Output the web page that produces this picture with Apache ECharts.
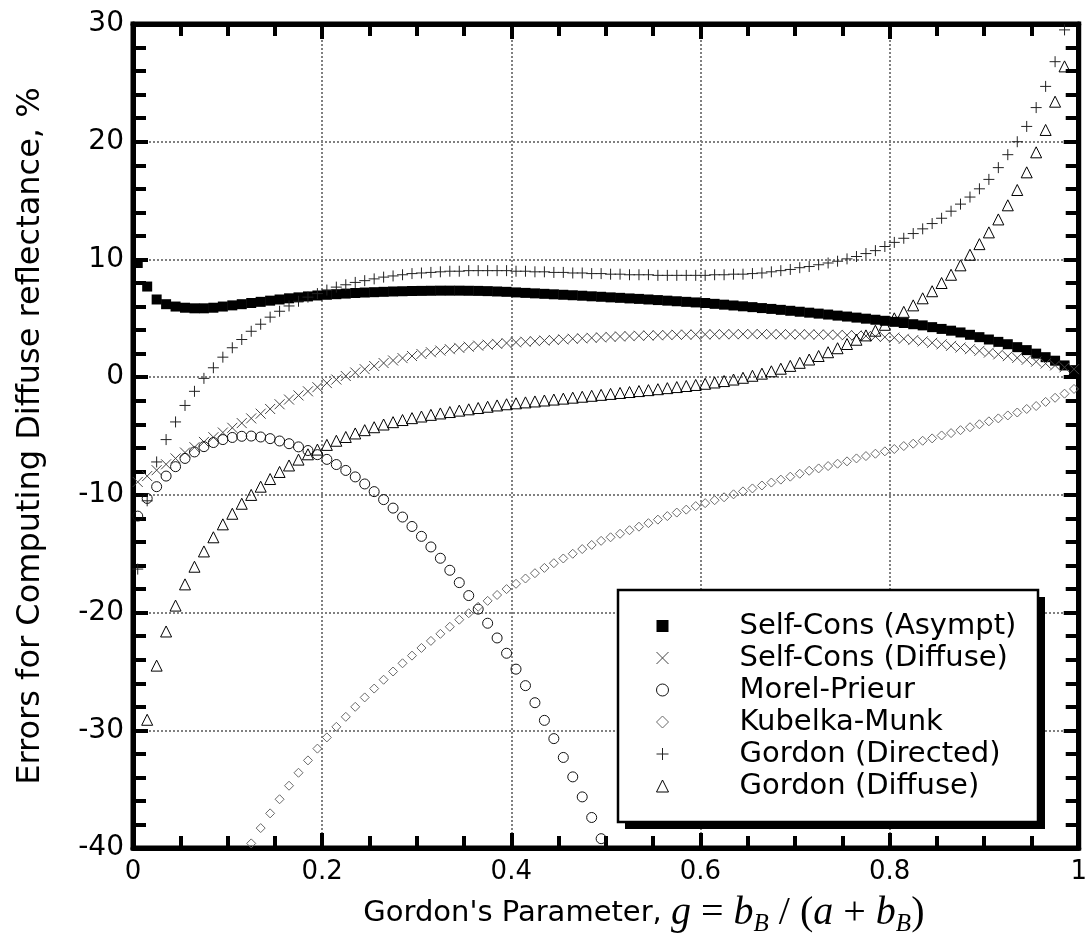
<!DOCTYPE html>
<html>
<head>
<meta charset="utf-8">
<script src="https://cdn.jsdelivr.net/npm/echarts@6/dist/echarts.min.js"></script>
<style>
html,body{margin:0;padding:0;background:#fff;}
#chart{width:1090px;height:942px;}
</style>
</head>
<body>
<div id="chart"></div>
<script>
// Gordon's parameter g (x positions of the computed points)
const G = [0.005,0.015,0.025,0.035,0.045,0.055,0.065,0.075,0.085,0.095,
0.105,0.115,0.125,0.135,0.145,0.155,0.165,0.175,0.185,0.195,
0.205,0.215,0.225,0.235,0.245,0.255,0.265,0.275,0.285,0.295,
0.305,0.315,0.325,0.335,0.345,0.355,0.365,0.375,0.385,0.395,
0.405,0.415,0.425,0.435,0.445,0.455,0.465,0.475,0.485,0.495,
0.505,0.515,0.525,0.535,0.545,0.555,0.565,0.575,0.585,0.595,
0.605,0.615,0.625,0.635,0.645,0.655,0.665,0.675,0.685,0.695,
0.705,0.715,0.725,0.735,0.745,0.755,0.765,0.775,0.785,0.795,
0.805,0.815,0.825,0.835,0.845,0.855,0.865,0.875,0.885,0.895,
0.905,0.915,0.925,0.935,0.945,0.955,0.965,0.975,0.985,0.995];

const selfConsAsympt = [9.7,7.7,6.6,6.2,6.0,5.9,5.85,5.85,5.9,6.0,
6.1,6.2,6.3,6.4,6.5,6.6,6.7,6.78,6.86,6.94,
7.0,7.05,7.1,7.15,7.19,7.22,7.25,7.28,7.3,7.32,
7.33,7.34,7.35,7.35,7.35,7.34,7.33,7.31,7.28,7.25,
7.2,7.16,7.12,7.08,7.04,7.0,6.96,6.92,6.87,6.83,
6.78,6.74,6.69,6.65,6.6,6.55,6.5,6.45,6.4,6.35,
6.3,6.23,6.16,6.09,6.02,5.95,5.87,5.8,5.72,5.64,
5.56,5.48,5.4,5.32,5.23,5.15,5.06,4.97,4.88,4.79,
4.7,4.6,4.5,4.4,4.25,4.1,3.95,3.8,3.6,3.4,
3.2,3.0,2.8,2.55,2.3,2.0,1.7,1.4,1.0,0.6];

const selfConsDiffuse = [-8.9,-8.4,-7.9,-7.4,-6.9,-6.4,-5.95,-5.5,-5.1,-4.7,
-4.3,-3.9,-3.5,-3.1,-2.7,-2.3,-1.9,-1.55,-1.2,-0.85,
-0.5,-0.2,0.1,0.4,0.68,0.95,1.2,1.42,1.62,1.8,
1.97,2.12,2.26,2.38,2.49,2.59,2.68,2.76,2.83,2.9,
2.96,3.01,3.06,3.11,3.16,3.21,3.26,3.3,3.34,3.38,
3.42,3.46,3.49,3.52,3.54,3.56,3.58,3.6,3.61,3.62,
3.63,3.64,3.65,3.65,3.66,3.66,3.66,3.65,3.65,3.64,
3.64,3.63,3.62,3.61,3.59,3.57,3.54,3.5,3.46,3.41,
3.36,3.26,3.15,3.04,2.92,2.79,2.66,2.52,2.38,2.24,
2.09,1.94,1.79,1.64,1.48,1.32,1.16,1.0,0.84,0.68];

const morelPrieur = [-11.8,-10.3,-9.3,-8.4,-7.6,-6.9,-6.35,-5.9,-5.55,-5.3,
-5.12,-5.02,-5.0,-5.08,-5.22,-5.42,-5.65,-5.92,-6.23,-6.58,
-6.98,-7.42,-7.92,-8.47,-9.07,-9.72,-10.4,-11.12,-11.88,-12.68,
-13.52,-14.42,-15.38,-16.4,-17.45,-18.55,-19.7,-20.9,-22.15,-23.45,
-24.8,-26.2,-27.65,-29.15,-30.7,-32.3,-33.95,-35.65,-37.4,-39.2,
null,null,null,null,null,null,null,null,null,null,
null,null,null,null,null,null,null,null,null,null,
null,null,null,null,null,null,null,null,null,null,
null,null,null,null,null,null,null,null,null,null,
null,null,null,null,null,null,null,null,null,null];

const kubelkaMunk = [null,null,null,null,null,null,null,null,null,null,
null,null,-39.6,-38.3,-37.05,-35.85,-34.7,-33.6,-32.55,-31.55,
-30.6,-29.7,-28.85,-28.0,-27.2,-26.45,-25.7,-25.0,-24.3,-23.65,
-23.0,-22.4,-21.8,-21.2,-20.6,-20.05,-19.5,-19.0,-18.5,-18.0,
-17.55,-17.1,-16.65,-16.2,-15.8,-15.4,-15.0,-14.6,-14.25,-13.9,
-13.6,-13.3,-13.0,-12.7,-12.4,-12.1,-11.8,-11.5,-11.25,-10.95,
-10.7,-10.45,-10.2,-9.95,-9.7,-9.45,-9.2,-8.95,-8.7,-8.45,
-8.2,-7.95,-7.75,-7.55,-7.35,-7.15,-6.9,-6.7,-6.5,-6.3,
-6.1,-5.85,-5.65,-5.4,-5.2,-4.95,-4.75,-4.5,-4.25,-4.0,
-3.75,-3.5,-3.25,-3.0,-2.7,-2.45,-2.1,-1.75,-1.4,-1.0];

const gordonDirected = [-16.3,-10.5,-7.2,-5.3,-3.8,-2.4,-1.2,-0.1,0.8,1.7,
2.5,3.2,3.9,4.5,5.1,5.6,6.05,6.45,6.8,7.1,
7.4,7.65,7.85,8.05,8.2,8.35,8.5,8.6,8.7,8.8,
8.85,8.9,8.95,9.0,9.0,9.05,9.05,9.05,9.05,9.05,
9.0,9.0,8.95,8.95,8.9,8.9,8.85,8.85,8.8,8.8,
8.75,8.75,8.7,8.7,8.7,8.65,8.65,8.65,8.65,8.65,
8.65,8.7,8.7,8.75,8.75,8.8,8.85,8.95,9.05,9.15,
9.3,9.4,9.55,9.7,9.85,10.05,10.25,10.5,10.75,11.1,
11.45,11.8,12.2,12.6,13.05,13.5,14.1,14.7,15.3,16.0,
16.8,17.8,18.9,20.0,21.3,22.9,24.7,26.8,29.5,32.5];

const gordonDiffuse = [null,-29.1,-24.5,-21.6,-19.4,-17.6,-16.1,-14.8,-13.6,-12.5,
-11.6,-10.75,-10.0,-9.3,-8.65,-8.05,-7.5,-7.0,-6.55,-6.15,
-5.75,-5.4,-5.08,-4.78,-4.5,-4.25,-4.02,-3.82,-3.64,-3.48,
-3.34,-3.2,-3.08,-2.96,-2.84,-2.73,-2.62,-2.51,-2.4,-2.3,
-2.22,-2.14,-2.06,-1.98,-1.9,-1.82,-1.74,-1.66,-1.58,-1.5,
-1.42,-1.34,-1.26,-1.18,-1.1,-1.02,-0.93,-0.84,-0.75,-0.66,
-0.56,-0.45,-0.33,-0.2,-0.05,0.12,0.3,0.5,0.72,0.96,
1.22,1.5,1.8,2.12,2.46,2.82,3.18,3.55,3.95,4.45,
5.0,5.55,6.1,6.7,7.3,8.0,8.7,9.5,10.4,11.3,
12.3,13.4,14.6,15.9,17.4,19.1,21.0,23.4,26.4,30.8];

const seriesNames = ['Self-Cons (Asympt)','Self-Cons (Diffuse)','Morel-Prieur','Kubelka-Munk','Gordon (Directed)','Gordon (Diffuse)'];
const seriesValues = [selfConsAsympt, selfConsDiffuse, morelPrieur, kubelkaMunk, gordonDirected, gordonDiffuse];

const CROSS = 'path://M0,0L10,10M10,0L0,10';
const PLUS = 'path://M5,0L5,10M0,5L10,5';
const styles = [
  {symbol:'rect', size:10, item:{color:'#000', opacity:1}},
  {symbol:CROSS, size:10, item:{color:'none', borderColor:'#444', borderWidth:1, opacity:1}},
  {symbol:'circle', size:10, item:{color:'rgba(0,0,0,0)', borderColor:'#111', borderWidth:1, opacity:1}},
  {symbol:'diamond', size:9, item:{color:'rgba(0,0,0,0)', borderColor:'#6a6a6a', borderWidth:1, opacity:1}},
  {symbol:PLUS, size:11, item:{color:'none', borderColor:'#222', borderWidth:1, opacity:1}},
  {symbol:'triangle', size:11, item:{color:'rgba(0,0,0,0)', borderColor:'#000', borderWidth:1, opacity:1}}
];

const series = seriesNames.map((name, si) => ({
  name: name,
  type: 'scatter',
  xAxisIndex: 0, yAxisIndex: 0,
  symbol: styles[si].symbol,
  symbolSize: styles[si].size,
  symbolKeepAspect: true,
  itemStyle: styles[si].item,
  clip: true,
  silent: true,
  data: G.map((g, i) => [g, seriesValues[si][i]]).filter(p => p[1] !== null)
}));

const tickLine = {color:'#000', width:4};
function xAx(pos, labels) {
  return {
    type:'value', min:0, max:1, interval:0.2, position:pos,
    axisLine:{show:true, onZero:false, lineStyle:{color:'#000', width:5}},
    axisTick:{show:true, inside:true, length:15, lineStyle:tickLine},
    minorTick:{show:true, splitNumber:4, length:12, lineStyle:tickLine},
    splitLine:{show:labels, lineStyle:{type:[2,2], color:'#808080', width:2}},
    axisLabel:{show:labels, fontSize:26, fontFamily:'DejaVu Sans', color:'#000', margin:11},
    name: labels ? "{t|Gordon's Parameter, }{i|g}{m| = }{i|b}{s|B}{m| / (}{i|a}{m| + }{i|b}{s|B}{m|)}" : '',
    nameLocation:'middle', nameGap:24,
    nameTextStyle:{
      padding:[0,0,0,76],
      rich:{
        t:{fontFamily:'DejaVu Sans', fontSize:29, color:'#000', lineHeight:46},
        i:{fontFamily:'Liberation Serif', fontStyle:'italic', fontSize:40, color:'#000', lineHeight:46},
        m:{fontFamily:'Liberation Serif', fontSize:40, color:'#000', lineHeight:46},
        s:{fontFamily:'Liberation Serif', fontStyle:'italic', fontSize:25, color:'#000', lineHeight:25, padding:[22,0,0,0]}
      }
    }
  };
}
function yAx(pos, labels) {
  return {
    type:'value', min:-40, max:30, interval:10, position:pos,
    axisLine:{show:true, onZero:false, lineStyle:{color:'#000', width:5}},
    axisTick:{show:true, inside:true, length:15, lineStyle:tickLine},
    minorTick:{show:true, splitNumber:5, length:13, lineStyle:tickLine},
    splitLine:{show:labels, lineStyle:{type:[2,2], color:'#808080', width:2}},
    axisLabel:{show:labels, fontSize:28, fontFamily:'DejaVu Sans', color:'#000', margin:9},
    name: labels ? 'Errors for Computing Diffuse reflectance, %' : '',
    nameLocation:'middle', nameGap:86, nameRotate:90,
    nameTextStyle:{fontFamily:'DejaVu Sans', fontSize:32, color:'#000'}
  };
}

const chart = echarts.init(document.getElementById('chart'), null, {renderer:'canvas'});
chart.setOption({
  backgroundColor:'#fff',
  animation:false,
  grid:{left:133, right:3, top:24, bottom:79, show:true, borderColor:'#000', borderWidth:5, backgroundColor:'#fff'},
  xAxis:[xAx('bottom', true), xAx('top', false)],
  yAxis:[yAx('left', true), yAx('right', false)],
  graphic:[
    {type:'rect', z:50, shape:{x:625, y:597, width:420, height:232}, style:{fill:'#000'}},
    {type:'rect', z:51, shape:{x:618, y:590, width:420, height:232}, style:{fill:'#fff', stroke:'#000', lineWidth:2.5}}
  ],
  legend:{
    z:60, left:654, top:611, orient:'vertical', padding:0,
    itemWidth:12, itemHeight:12, itemGap:2,
    selectedMode:false,
    itemStyle:{borderWidth:1},
    textStyle:{fontFamily:'DejaVu Sans', fontSize:29, color:'#000', lineHeight:30, padding:[0,0,0,66]},
    data: seriesNames
  },
  series: series
});
</script>
</body>
</html>
